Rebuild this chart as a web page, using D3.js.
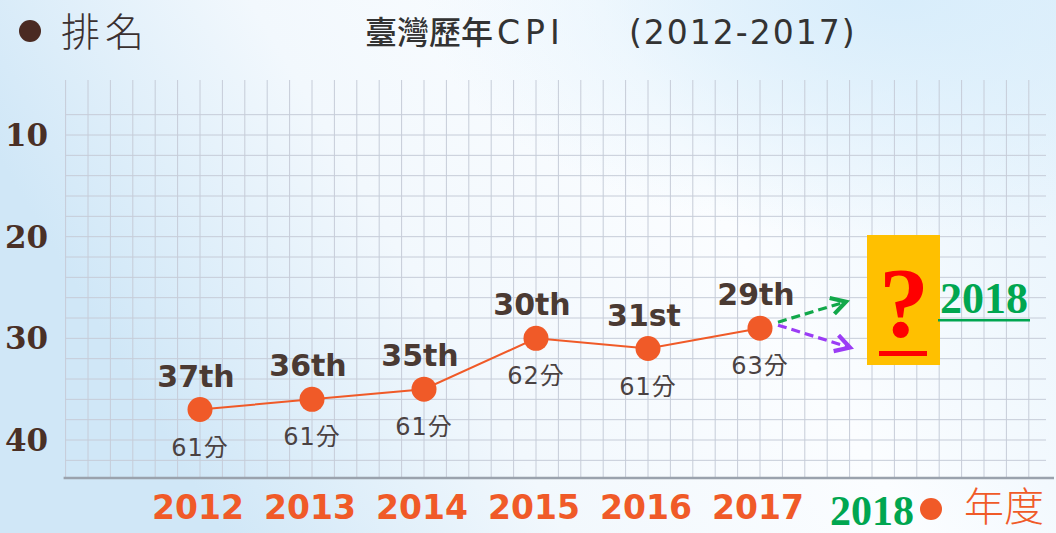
<!DOCTYPE html>
<html>
<head>
<meta charset="utf-8">
<script src="https://cdn.jsdelivr.net/npm/d3@7"></script>
<style>
  body { margin: 0; padding: 0; overflow: hidden; }
  svg { display: block; }
</style>
</head>
<body>
<div id="chart"></div>
<script>
// data
const years = [2012, 2013, 2014, 2015, 2016, 2017];
const ranks = [37, 36, 35, 30, 31, 29];
const rankLabels = ["37th", "36th", "35th", "30th", "31st", "29th"];
const scores = ["61分", "61分", "61分", "62分", "61分", "63分"];
const yTicks = [10, 20, 30, 40];
const nextYear = 2018;

const width = 1056, height = 533;
const orange = "#f05a28";
const brown = "#4a3a33";

const svg = d3.select("#chart").append("svg")
    .attr("width", width)
    .attr("height", height);

// background
const defs = svg.append("defs");
const lg = defs.append("linearGradient").attr("id", "bg").attr("x1", 0).attr("x2", 1).attr("y1", 0.3).attr("y2", 0);
lg.append("stop").attr("offset", "0%").attr("stop-color", "#d0e7f7");
lg.append("stop").attr("offset", "30%").attr("stop-color", "#f2f8fd");
lg.append("stop").attr("offset", "60%").attr("stop-color", "#fbfdff");
lg.append("stop").attr("offset", "100%").attr("stop-color", "#e4f2fc");
const rg = defs.append("radialGradient").attr("id", "tr").attr("cx", 0.85).attr("cy", 0).attr("r", 0.45);
rg.append("stop").attr("offset", "0%").attr("stop-color", "#d8edfb").attr("stop-opacity", 1);
rg.append("stop").attr("offset", "100%").attr("stop-color", "#d8edfb").attr("stop-opacity", 0);
svg.append("rect").attr("width", width).attr("height", height).attr("fill", "url(#bg)");
svg.append("rect").attr("width", width).attr("height", height).attr("fill", "url(#tr)");

// scales
const x = d3.scaleLinear().domain([2012, 2017]).range([200, 760]);
const y = d3.scaleLinear().domain([10, 40]).range([135, 440]);

// grid
const gridTop = 80, axisY = 478;
const xGrid = d3.range(0, 44).map(i => 2010.8 + i * 0.2).filter(v => x(v) <= 1046);
svg.append("g").selectAll("line").data(xGrid).enter().append("line")
    .attr("x1", d => x(d)).attr("x2", d => x(d))
    .attr("y1", gridTop).attr("y2", axisY)
    .attr("stroke", "#c6ccd8").attr("stroke-width", 1);
const yGrid = d3.range(8, 43, 2);
svg.append("g").selectAll("line").data(yGrid).enter().append("line")
    .attr("x1", x(2010.8)).attr("x2", 1046)
    .attr("y1", d => y(d)).attr("y2", d => y(d))
    .attr("stroke", "#c6ccd8").attr("stroke-width", 1);

// x axis line
svg.append("line")
    .attr("x1", x(2010.8) - 2).attr("x2", 1054)
    .attr("y1", axisY).attr("y2", axisY)
    .attr("stroke", "#9aa2ad").attr("stroke-width", 2.5);

// y tick labels
svg.append("g").selectAll("text").data(yTicks).enter().append("text")
    .attr("x", 5).attr("y", d => y(d) + 11)
    .attr("font-family", "DejaVu Serif").attr("font-weight", "bold")
    .attr("font-size", 31).attr("fill", "#4a3026")
    .text(d => d);

// x tick labels
svg.append("g").selectAll("text").data(years).enter().append("text")
    .attr("x", d => x(d) - 2).attr("y", 519)
    .attr("text-anchor", "middle")
    .attr("font-family", "DejaVu Sans").attr("font-weight", "bold")
    .attr("font-size", 33).attr("fill", orange)
    .text(d => d);

// line
const pts = years.map((yr, i) => [yr, ranks[i]]);
svg.append("path")
    .datum(pts)
    .attr("fill", "none")
    .attr("stroke", orange).attr("stroke-width", 2)
    .attr("d", d3.line().x(d => x(d[0])).y(d => y(d[1])));

svg.append("g").selectAll("circle").data(pts).enter().append("circle")
    .attr("cx", d => x(d[0])).attr("cy", d => y(d[1]))
    .attr("r", 12.5).attr("fill", orange);

// rank labels
svg.append("g").selectAll("text").data(pts).enter().append("text")
    .attr("x", d => x(d[0]) - 4).attr("y", d => y(d[1]) - 23)
    .attr("text-anchor", "middle")
    .attr("font-family", "DejaVu Sans").attr("font-weight", "bold")
    .attr("font-size", 30).attr("fill", brown)
    .text((d, i) => rankLabels[i]);

// score labels
svg.append("g").selectAll("text").data(pts).enter().append("text")
    .attr("x", d => x(d[0])).attr("y", d => y(d[1]) + 46)
    .attr("text-anchor", "middle")
    .attr("font-family", "DejaVu Sans, 'Noto Sans CJK TC'")
    .attr("font-size", 24).attr("fill", "#4a4242")
    .attr("letter-spacing", 1)
    .text((d, i) => scores[i]);

// arrows
const mk = (id, color) => {
  defs.append("marker").attr("id", id)
    .attr("viewBox", "0 0 10 10").attr("refX", 8).attr("refY", 5)
    .attr("markerWidth", 6.5).attr("markerHeight", 6.5).attr("orient", "auto")
    .append("path").attr("d", "M1,1 L8,5 L1,9").attr("fill", "none")
    .attr("stroke", color).attr("stroke-width", 2);
};
mk("ag", "#12a84a");
mk("ap", "#9b3cf5");
const last = pts[pts.length - 1];
svg.append("line")
    .attr("x1", x(last[0]) + 18).attr("y1", y(last[1]) - 6)
    .attr("x2", x(nextYear) - 26).attr("y2", y(26.4))
    .attr("stroke", "#12a84a").attr("stroke-width", 3.2).attr("stroke-dasharray", "9,5")
    .attr("marker-end", "url(#ag)");
svg.append("line")
    .attr("x1", x(last[0]) + 18).attr("y1", y(last[1]) - 3)
    .attr("x2", x(nextYear) - 22).attr("y2", y(30.9))
    .attr("stroke", "#9b3cf5").attr("stroke-width", 3.2).attr("stroke-dasharray", "9,5")
    .attr("marker-end", "url(#ap)");

// question box
svg.append("rect")
    .attr("x", 867).attr("y", 235).attr("width", 73).attr("height", 130)
    .attr("fill", "#ffc000");
svg.append("text")
    .attr("x", 904).attr("y", 336)
    .attr("text-anchor", "middle")
    .attr("font-family", "Liberation Serif").attr("font-weight", "bold")
    .attr("font-size", 100).attr("fill", "#ff0000")
    .text("?");
svg.append("rect")
    .attr("x", 879).attr("y", 351).attr("width", 48).attr("height", 5)
    .attr("fill", "#ff0000");

// 2018 labels
svg.append("text")
    .attr("x", 984).attr("y", 313)
    .attr("text-anchor", "middle")
    .attr("font-family", "Liberation Serif").attr("font-weight", "bold")
    .attr("font-size", 44).attr("fill", "#00a650")
    .text(nextYear);
svg.append("rect")
    .attr("x", 938).attr("y", 319).attr("width", 92).attr("height", 2.5)
    .attr("fill", "#00a650");
svg.append("text")
    .attr("x", x(nextYear)).attr("y", 525)
    .attr("text-anchor", "middle")
    .attr("font-family", "Liberation Serif").attr("font-weight", "bold")
    .attr("font-size", 42).attr("fill", "#00a650")
    .text(nextYear);

// axis names
svg.append("circle").attr("cx", 931).attr("cy", 509).attr("r", 11).attr("fill", orange);
svg.append("text")
    .attr("x", 964).attr("y", 521)
    .attr("font-family", "'Noto Sans CJK TC'").attr("font-weight", 300)
    .attr("font-size", 40).attr("fill", orange)
    .text("年度");

svg.append("circle").attr("cx", 30).attr("cy", 31).attr("r", 11).attr("fill", "#4a2a22");
svg.append("text")
    .attr("x", 61).attr("y", 46)
    .attr("font-family", "'Noto Sans CJK TC'").attr("font-weight", 300)
    .attr("font-size", 39).attr("fill", "#3a3030")
    .attr("letter-spacing", 5)
    .text("排名");

// title
svg.append("text")
    .attr("x", 365).attr("y", 44)
    .attr("font-family", "'Noto Sans CJK TC'").attr("font-weight", 500)
    .attr("font-size", 32).attr("fill", "#333")
    .text("臺灣歷年");
svg.append("text")
    .attr("x", 497).attr("y", 44)
    .attr("font-family", "DejaVu Sans").attr("font-weight", 500)
    .attr("font-size", 33).attr("fill", "#333")
    .attr("letter-spacing", 5)
    .text("CPI");
svg.append("text")
    .attr("x", 629).attr("y", 44)
    .attr("font-family", "DejaVu Sans")
    .attr("font-size", 33).attr("fill", "#333")
    .attr("letter-spacing", 2)
    .text("(2012-2017)");
</script>
</body>
</html>
